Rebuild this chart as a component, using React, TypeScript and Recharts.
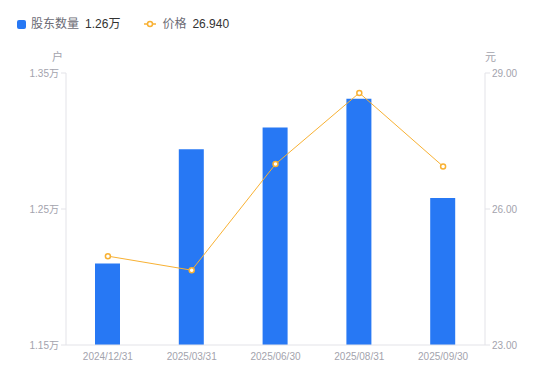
import { ComposedChart, Bar, Line, XAxis, YAxis } from 'recharts'

const dates = ['2024/12/31', '2025/03/31', '2025/06/30', '2025/08/31', '2025/09/30']
const holders = [12100, 12940, 13100, 13310, 12580]
const prices = [24.96, 24.65, 26.99, 28.56, 26.94]
const holderTicks = [11500, 12500, 13500]
const priceTicks = [23, 26, 29]

const data = dates.map((d, i) => ({ date: d, holders: holders[i], price: prices[i] }))

const BLUE = '#2778f4'
const ORANGE = '#f8b133'
const FONT = '"Liberation Sans", Arial, "Noto Sans CJK SC", sans-serif'
const tickStyle = { fill: '#a3a3ad', fontSize: 10, fontFamily: FONT }

const unitLabel = (text: string, side: 'left' | 'right') => (props: any) => {
  const vb = props.viewBox
  const x = side === 'left' ? vb.x + vb.width - 3 : vb.x + 0
  return (
    <text x={x} y={vb.y - 12} textAnchor={side === 'left' ? 'end' : 'start'} fill="#a3a3ad" fontSize={11} fontFamily={FONT}>
      {text}
    </text>
  )
}

export default function App() {
  const last = data[data.length - 1]
  return (
    <div style={{ position: 'absolute', left: 0, top: 0, width: 550, height: 381, background: '#fff', fontFamily: FONT }}>
      <div style={{ position: 'absolute', left: 17, top: 15, display: 'flex', alignItems: 'center', fontSize: 12, lineHeight: '18px' }}>
        <span style={{ width: 9, height: 9, background: BLUE, borderRadius: 2, display: 'inline-block' }} />
        <span style={{ color: '#6b6b75', marginLeft: 5 }}>股东数量</span>
        <span style={{ color: '#333', marginLeft: 6 }}>{(last.holders / 10000).toFixed(2)}万</span>
        <svg width={12} height={8} style={{ marginLeft: 24 }}>
          <line x1={0} y1={4} x2={12} y2={4} stroke={ORANGE} strokeWidth={1.5} />
          <circle cx={6} cy={4} r={2.5} fill="#fff" stroke={ORANGE} strokeWidth={1.5} />
        </svg>
        <span style={{ color: '#6b6b75', marginLeft: 6 }}>价格</span>
        <span style={{ color: '#333', marginLeft: 6 }}>{last.price.toFixed(3)}</span>
      </div>
      <ComposedChart width={550} height={381} data={data} margin={{ top: 73, right: 15, left: 6, bottom: 6 }}>
        <XAxis
          dataKey="date"
          tick={tickStyle}
          tickLine={false}
          axisLine={{ stroke: '#e3e3e8' }}
          height={30}
          interval={0}
        />
        <YAxis
          yAxisId="left"
          orientation="left"
          width={60}
          domain={[11500, 13500]}
          ticks={holderTicks}
          tickFormatter={(v) => `${(v / 10000).toFixed(2)}万`}
          tick={tickStyle}
          tickSize={5}
          tickMargin={2}
          tickLine={{ stroke: '#e3e3e8' }}
          axisLine={{ stroke: '#e3e3e8' }}
          label={{ content: unitLabel('户', 'left') } as any}
        />
        <YAxis
          yAxisId="right"
          orientation="right"
          width={50}
          domain={[23, 29]}
          ticks={priceTicks}
          tickFormatter={(v) => v.toFixed(2)}
          tick={tickStyle}
          tickSize={5}
          tickMargin={2}
          tickLine={{ stroke: '#e3e3e8' }}
          axisLine={{ stroke: '#e3e3e8' }}
          label={{ content: unitLabel('元', 'right') } as any}
        />
        <Bar yAxisId="left" dataKey="holders" fill={BLUE} barSize={25} isAnimationActive={false} />
        <Line
          yAxisId="right"
          dataKey="price"
          type="linear"
          stroke={ORANGE}
          strokeWidth={1}
          dot={{ r: 2.5, fill: '#fff', stroke: ORANGE, strokeWidth: 1.5 }}
          activeDot={false}
          isAnimationActive={false}
        />
      </ComposedChart>
    </div>
  )
}
